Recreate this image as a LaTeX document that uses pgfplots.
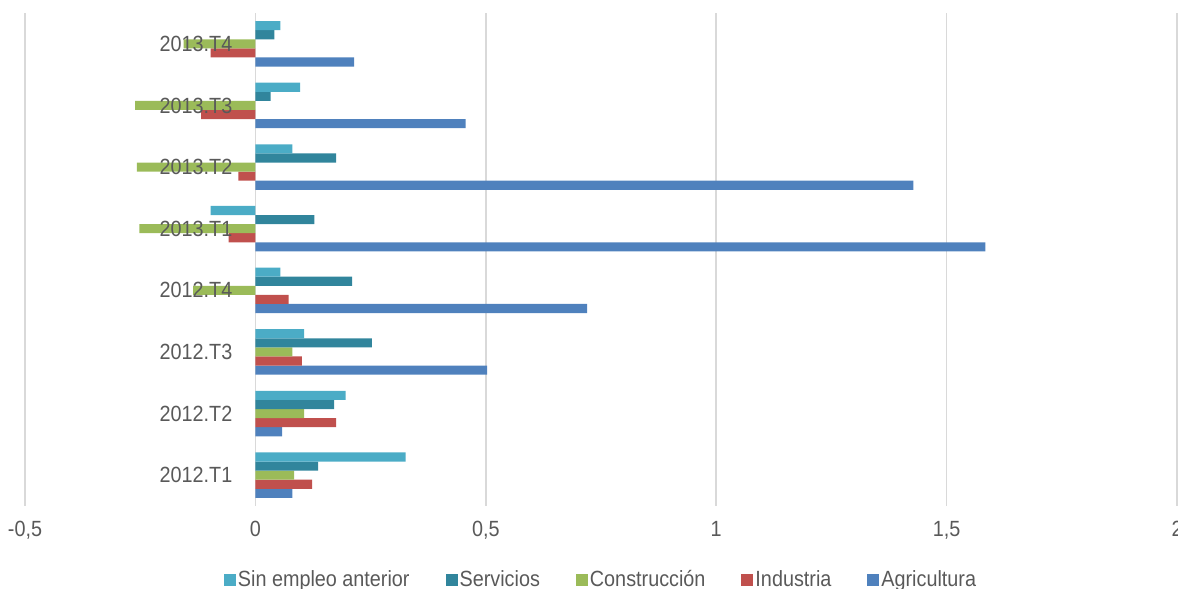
\documentclass[border=0pt]{standalone}
\usepackage{pgfplots}
\pgfplotsset{compat=1.18}
\usepackage{fontspec}
\setmainfont{Liberation Sans}[FakeStretch=0.9]
\definecolor{cSin}{HTML}{4BACC6}
\definecolor{cSer}{HTML}{31859C}
\definecolor{cCon}{HTML}{9BBB59}
\definecolor{cInd}{HTML}{C0504D}
\definecolor{cAgr}{HTML}{4F81BD}
\definecolor{gridgray}{HTML}{D9D9D9}
\definecolor{tgray}{HTML}{595959}
\begin{document}
\begin{tikzpicture}
\begin{axis}[
  scale only axis, width=576pt, height=246.5pt,
  at={(0,0)}, anchor=south west,
  xmin=-0.5, xmax=2, ymin=-0.5, ymax=7.5,
  axis line style={draw=none},
  major tick length=0pt,
  xtick={-0.5,0,0.5,1,1.5,2},
  xticklabels={{-0,5},{0},{0,5},{1},{1,5},{2}},
  ytick=\empty,
  xmajorgrids, grid style={draw=gridgray, line width=0.8pt},
  xbar, bar width=0.1474,
  xticklabel style={anchor=base, yshift=-15pt, font=\fontsize{11}{13}\selectfont, text=tgray},
  legend style={at={(0.5,0)}, anchor=center, yshift=-37pt, draw=none, fill=none,
    legend columns=5, font=\fontsize{11}{13}\selectfont, text=tgray,
    nodes={inner sep=1pt},
    /tikz/every even column/.append style={column sep=17pt}},
  legend cell align=left,
  reverse legend,
  legend image code/.code={\fill[#1] (0pt,-3pt) rectangle (6pt,3pt);},
]
\addplot[fill=cAgr, draw=none, bar shift=-0.2948] coordinates {(0.080,0) (0.058,1) (0.503,2) (0.720,3) (1.584,4) (1.428,5) (0.456,6) (0.214,7)};
\addlegendentry{Agricultura}
\addplot[fill=cInd, draw=none, bar shift=-0.1474] coordinates {(0.123,0) (0.175,1) (0.101,2) (0.072,3) (-0.058,4) (-0.037,5) (-0.118,6) (-0.097,7)};
\addlegendentry{Industria}
\addplot[fill=cCon, draw=none, bar shift=0] coordinates {(0.084,0) (0.106,1) (0.080,2) (-0.135,3) (-0.252,4) (-0.257,5) (-0.261,6) (-0.156,7)};
\addlegendentry{Construcción}
\addplot[fill=cSer, draw=none, bar shift=0.1474] coordinates {(0.136,0) (0.171,1) (0.253,2) (0.210,3) (0.128,4) (0.175,5) (0.033,6) (0.041,7)};
\addlegendentry{Servicios}
\addplot[fill=cSin, draw=none, bar shift=0.2948] coordinates {(0.326,0) (0.196,1) (0.106,2) (0.054,3) (-0.097,4) (0.080,5) (0.097,6) (0.054,7)};
\addlegendentry{Sin empleo anterior}
\end{axis}
\begin{axis}[
  scale only axis, width=576pt, height=246.5pt,
  at={(0,0)}, anchor=south west,
  xmin=-0.5, xmax=2, ymin=-0.5, ymax=7.5,
  axis line style={draw=none},
  major tick length=0pt,
  xtick=\empty,
  ytick={0,1,2,3,4,5,6,7},
  yticklabels={2012.T1,2012.T2,2012.T3,2012.T4,2013.T1,2013.T2,2013.T3,2013.T4},
  yticklabel style={anchor=east, inner sep=0pt, xshift=103.85pt, font=\fontsize{11}{13}\selectfont, text=tgray},
]
\end{axis}
\pgfresetboundingbox
\path[use as bounding box] (-12.5pt,-41.5pt) rectangle (576.5pt,253pt);
\end{tikzpicture}
\end{document}
